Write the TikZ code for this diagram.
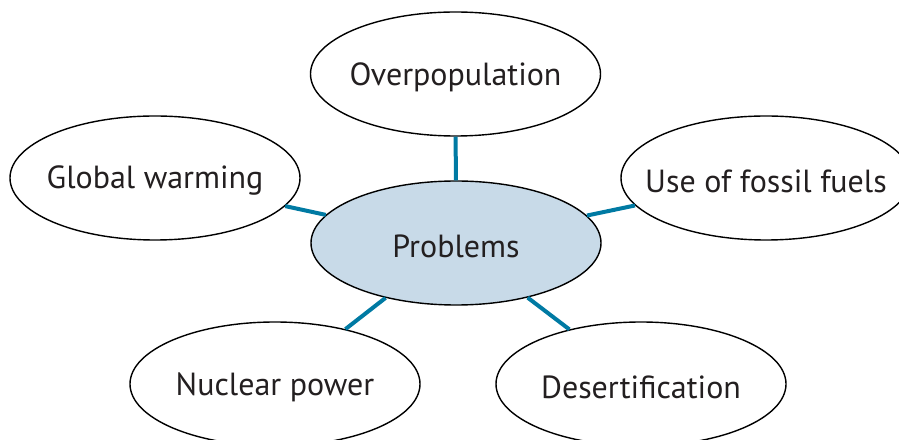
\documentclass[tikz,border=0pt]{standalone}
\usepackage{fontspec}
\setmainfont{PT Sans}
\usetikzlibrary{shapes.geometric}
\definecolor{linkblue}{RGB}{0,122,163}
\definecolor{centrefill}{RGB}{200,218,232}
\definecolor{textgrey}{RGB}{35,31,32}
\tikzset{
  blob/.style={ellipse, draw=black, line width=1.4pt, fill=white,
    minimum width=290pt, minimum height=124pt, inner sep=0pt},
  blobtext/.style={text=textgrey, font=\fontsize{32}{36}\selectfont, yshift=-3pt},
  link/.style={draw=linkblue, line width=4pt}
}
\begin{document}
\begin{tikzpicture}[x=1pt,y=1pt]
\useasboundingbox (0,0) rectangle (899,439);
\node[blob, label={[blobtext]center:Overpopulation}] (over) at (455.5,365) {};
\node[blob, label={[blobtext]center:Global warming}] (glob) at (155,261) {};
\node[blob, label={[blobtext]center:Use of fossil fuels}] (foss) at (766,261) {};
\node[blob, fill=centrefill, label={[blobtext]center:Problems}] (prob) at (456,196) {};
\node[blob, label={[blobtext]center:Nuclear power}] (nucl) at (275,55) {};
\node[blob, label={[blobtext]center:Desertification}] (dese) at (641,55) {};
\draw[link] (prob) -- (over);
\draw[link] (prob) -- (glob);
\draw[link] (prob) -- (foss);
\draw[link] (prob) -- (nucl);
\draw[link] (prob) -- (dese);
\end{tikzpicture}
\end{document}
